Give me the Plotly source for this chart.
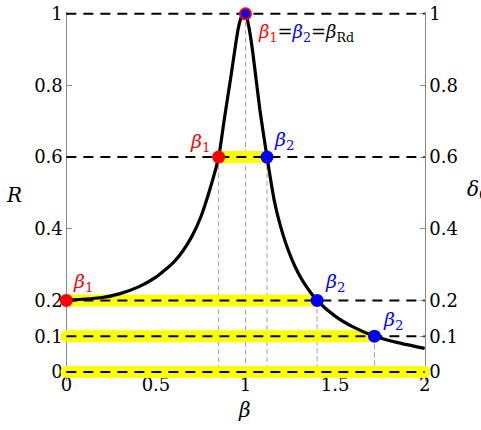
import plotly.graph_objects as go

# ---- data ----
beta_curve = [0.0, 0.2, 0.3, 0.4, 0.5, 0.6, 0.65, 0.70, 0.75, 0.80, 0.85, 0.88, 0.92, 0.96, 0.98, 1.0,
              1.02, 1.04, 1.08, 1.12, 1.16, 1.19, 1.23, 1.275, 1.32, 1.40, 1.50, 1.60, 1.72, 1.85, 2.0]
R_curve = [0.200, 0.208, 0.219, 0.237, 0.265, 0.307, 0.338, 0.378, 0.432, 0.508, 0.60, 0.70, 0.83, 0.96, 0.995, 1.0,
           0.96, 0.895, 0.733, 0.60, 0.48, 0.417, 0.352, 0.296, 0.254, 0.20, 0.156, 0.126, 0.10, 0.082, 0.066]

levels = [1.0, 0.6, 0.2, 0.1, 0.0]

beta1_x = [0.0, 0.85]
beta1_R = [0.2, 0.6]
beta2_x = [1.12, 1.40, 1.72]
beta2_R = [0.6, 0.2, 0.1]
peak_x = [1.0]
peak_R = [1.0]

band_R = [0.6, 0.2, 0.1, 0.0]
band_start = [0.85, 0.0, 0.0, 0.0]
band_end = [1.12, 1.40, 1.72, 2.0]

x_ticks = [0, 0.5, 1, 1.5, 2]
x_ticktext = ["0", "0.5", "1", "1.5", "2"]
y_ticks = [0, 0.1, 0.2, 0.4, 0.6, 0.8, 1]
y_ticktext = ["0", "0.1", "0.2", "0.4", "0.6", "0.8", "1"]

X_MIN, X_MAX = 0.0, 2.0
Y_MIN, Y_MAX = 0.0, 1.0

RED = "#FF0000"
BLUE = "#0000FF"
YELLOW = "#FFFF00"
FONT = "DejaVu Serif"

fig = go.Figure()

# grey vertical dashed guides
vx, vy = [], []
for bx, br in zip(beta1_x[1:] + peak_x + beta2_x, beta1_R[1:] + peak_R + beta2_R):
    vx += [bx, bx, None]
    vy += [br, Y_MIN, None]
fig.add_trace(go.Scatter(x=vx, y=vy, mode="lines",
                         line=dict(color="#a0a0a0", width=1, dash="5px,3px"),
                         hoverinfo="skip", showlegend=False))

# yellow highlight bands
bx_, by_ = [], []
for s, e, r in zip(band_start, band_end, band_R):
    bx_ += [s, e, None]
    by_ += [r, r, None]
fig.add_trace(go.Scatter(x=bx_, y=by_, mode="lines+markers",
                         line=dict(color=YELLOW, width=12),
                         marker=dict(color=YELLOW, size=12, line=dict(width=0)),
                         cliponaxis=False, hoverinfo="skip", showlegend=False))

# black dashed horizontal lines
hx, hy = [], []
for lv in levels:
    hx += [X_MIN, X_MAX, None]
    hy += [lv, lv, None]
fig.add_trace(go.Scatter(x=hx, y=hy, mode="lines",
                         line=dict(color="black", width=2, dash="10px,7px"),
                         hoverinfo="skip", showlegend=False))

# curve
fig.add_trace(go.Scatter(x=beta_curve, y=R_curve, mode="lines",
                         line=dict(color="black", width=3.2, shape="spline", smoothing=0.6),
                         hoverinfo="skip", showlegend=False))

# markers
fig.add_trace(go.Scatter(x=beta1_x, y=beta1_R, mode="markers",
                         marker=dict(color=RED, size=13, line=dict(width=0)),
                         cliponaxis=False, hoverinfo="skip", showlegend=False))
fig.add_trace(go.Scatter(x=beta2_x, y=beta2_R, mode="markers",
                         marker=dict(color=BLUE, size=13, line=dict(width=0)),
                         cliponaxis=False, hoverinfo="skip", showlegend=False))
fig.add_trace(go.Scatter(x=peak_x, y=peak_R, mode="markers",
                         marker=dict(color=BLUE, size=11, line=dict(color=RED, width=2)),
                         cliponaxis=False, hoverinfo="skip", showlegend=False))

# point labels
b1 = "<i>β</i><sub>1</sub>"
b2 = "<i>β</i><sub>2</sub>"
lab_font = dict(family=FONT, size=19)
ann = []
ann.append(dict(x=beta1_x[0], y=beta1_R[0], text=b1, xanchor="left", yanchor="middle",
                xshift=5, yshift=18, font=dict(lab_font, color=RED)))
ann.append(dict(x=beta1_x[1], y=beta1_R[1], text=b1, xanchor="right", yanchor="middle",
                xshift=-7, yshift=15, font=dict(lab_font, color=RED)))
for bx, br, xs, ys in zip(beta2_x, beta2_R, [5, 6, 7], [17, 18, 16]):
    ann.append(dict(x=bx, y=br, text=b2, xanchor="left", yanchor="middle",
                    xshift=xs, yshift=ys, font=dict(lab_font, color=BLUE)))
ann.append(dict(x=peak_x[0], y=peak_R[0],
                text=("<span style='color:#FF0000'><i>β</i><sub>1</sub></span>="
                      "<span style='color:#0000FF'><i>β</i><sub>2</sub></span>="
                      "<i>β</i><sub>Rd</sub>"),
                xanchor="left", yanchor="middle", xshift=10, yshift=-19,
                font=dict(family=FONT, size=18, color="black")))
for a in ann:
    a.update(xref="x", yref="y", showarrow=False)

# axis titles
ann.append(dict(x=-0.127, y=0.504, xref="paper", yref="paper", text="<i>R</i>", showarrow=False,
                xanchor="center", yanchor="middle", font=dict(family=FONT, size=20, color="black")))
ann.append(dict(x=1.095, y=0.518, xref="paper", yref="paper", text="<i>δ</i><sub>0</sub>", showarrow=False,
                xanchor="left", yanchor="middle", font=dict(family=FONT, size=20, color="black")))
ann.append(dict(x=0.4986, y=-0.079, xref="paper", yref="paper", text="<i>β</i>", showarrow=False,
                xanchor="center", yanchor="middle", font=dict(family=FONT, size=20, color="black")))

x_pad = 0.03
y_lo_pad = 0.025
y_hi_pad = 0.005
xr = [X_MIN - x_pad, X_MAX + x_pad]
yr = [Y_MIN - y_lo_pad, Y_MAX + y_hi_pad]
x_left_pos = (X_MIN - xr[0]) / (xr[1] - xr[0])
x_right_pos = (X_MAX - xr[0]) / (xr[1] - xr[0])
y_bottom_pos = (Y_MIN - yr[0]) / (yr[1] - yr[0])

tick_font = dict(family=FONT, size=18, color="black")
fig.update_layout(
    width=481, height=430,
    margin=dict(l=61, r=51, t=12, b=49, autoexpand=False),
    paper_bgcolor="white", plot_bgcolor="white",
    showlegend=False, hovermode=False,
    annotations=ann,
    xaxis=dict(range=xr, anchor="free", position=y_bottom_pos, showgrid=False, zeroline=False,
               showline=False, ticks="inside", ticklen=5, tickcolor="#888888", automargin=False,
               tickvals=x_ticks, ticktext=x_ticktext, tickfont=tick_font, layer="below traces"),
    yaxis=dict(range=yr, anchor="free", position=x_left_pos, showgrid=False, zeroline=False,
               showline=True, linecolor="#888888", linewidth=1, automargin=False,
               ticks="inside", ticklen=5, tickcolor="#888888",
               tickvals=y_ticks, ticktext=y_ticktext, tickfont=tick_font, layer="below traces"),
    yaxis2=dict(range=yr, anchor="free", position=x_right_pos, overlaying="y", side="right",
                showgrid=False, zeroline=False, showline=True, linecolor="#888888", linewidth=1,
                ticks="inside", ticklen=5, tickcolor="#888888", automargin=False,
                tickvals=y_ticks, ticktext=y_ticktext, tickfont=tick_font, layer="below traces"),
)
# invisible trace to activate yaxis2
fig.add_trace(go.Scatter(x=[X_MIN], y=[Y_MIN], yaxis="y2", mode="markers",
                         marker=dict(opacity=0), hoverinfo="skip", showlegend=False))

fig.write_html("out.html", config={"displayModeBar": False, "staticPlot": True},
               post_script="document.body.style.margin='0';")
